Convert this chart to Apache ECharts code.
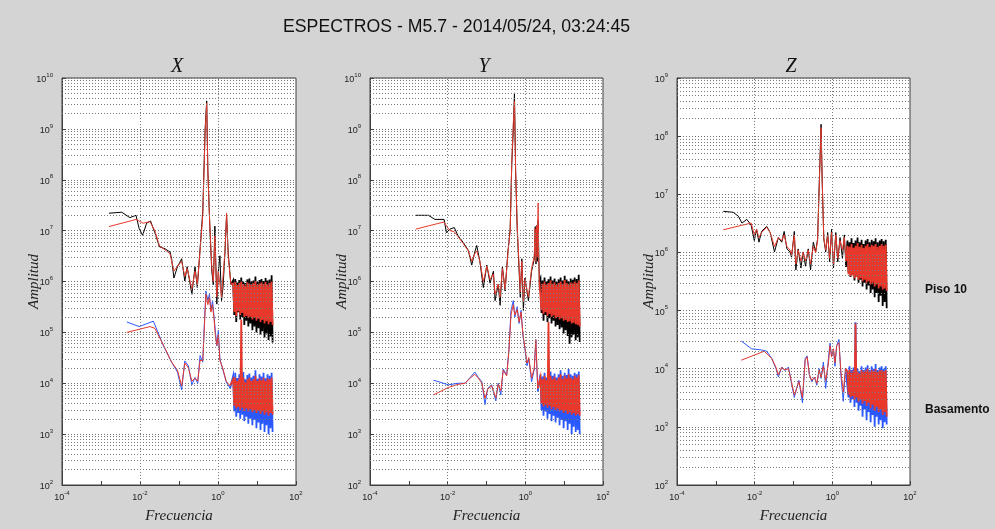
<!DOCTYPE html>
<html><head><meta charset="utf-8">
<script src="https://cdn.jsdelivr.net/npm/echarts@6/dist/echarts.min.js"></script>
<style>html,body{margin:0;padding:0;background:#d4d4d4;}#c{width:995px;height:529px;}</style>
</head><body><div id="c"></div>
<script>
const mainTitle = 'ESPECTROS - M5.7 - 2014/05/24, 03:24:45';
const panelTitles = ['X', 'Y', 'Z'];
const yMaxes = [1e10, 1e10, 1e9];
const xTickExps = [-4, -2, 0, 2];

// high-frequency band frequencies (Hz), shared by every panel
const bandFreq = [2.45,2.61,2.77,2.94,3.12,3.31,3.51,3.72,3.95,4.20,4.46,4.73,5.02,5.33,5.66,6.00,6.37,6.76,7.18,7.62,8.09,8.59,9.12,9.68,10.3,10.9,11.6,12.3,13.0,13.8,14.7,15.6,16.6,17.5,18.6,19.8,21.0,22.3,23.7,25.1];

// ---------- X ----------
const xPisoRaw = [[0.0016,2.2e7],[0.0034,2.3e7],[0.0055,1.8e7],[0.0079,2.0e7],[0.0095,1.1e7],[0.0117,8.1e6],[0.0148,1.4e7],[0.0186,1.55e7],[0.024,9.1e6],[0.0316,4.8e6],[0.0437,4.4e6],[0.0589,3.8e6],[0.0646,2.8e6],[0.0741,1.17e6],[0.0912,1.95e6],[0.117,2.8e6],[0.141,1.02e6],[0.162,1.95e6],[0.214,5.6e5],[0.257,1.95e6],[0.295,7.6e5],[0.347,4.4e6],[0.407,2.4e7],[0.468,1.0e9],[0.513,3.55e9],[0.55,1.5e8],[0.617,1.23e7],[0.692,1.6e6],[0.759,8.7e5],[0.832,1.23e7],[0.933,3.6e5],[1.02,1.6e6],[1.12,3.2e6],[1.23,4.2e5],[1.35,7.9e5],[1.51,3.8e6],[1.66,2.0e7],[1.82,3.8e6],[2.14,8.7e5]];
const xPisoFilt = [[0.0016,1.2e7],[0.0079,1.66e7],[0.012,1.4e7],[0.018,1.5e7],[0.024,1.0e7],[0.0316,5.0e6],[0.0437,4.2e6],[0.0589,3.5e6],[0.0741,1.6e6],[0.0912,2.0e6],[0.117,2.5e6],[0.141,1.26e6],[0.162,1.8e6],[0.214,7.1e5],[0.257,1.6e6],[0.295,8.9e5],[0.347,4.0e6],[0.407,2.0e7],[0.468,8.9e8],[0.513,3.2e9],[0.55,1.4e8],[0.617,1.26e7],[0.692,2.0e6],[0.759,1.0e6],[0.832,7.9e6],[0.933,5.0e5],[1.02,1.6e6],[1.23,5.0e5],[1.51,4.0e6],[1.66,2.2e7],[1.82,3.2e6],[2.14,8.9e5]];
const xBaseRaw = [[0.0046,1.6e5],[0.0095,1.3e5],[0.022,1.66e5],[0.0275,1.1e5],[0.04,5.4e4],[0.0646,2.6e4],[0.0912,1.66e4],[0.117,7.4e3],[0.141,2.75e4],[0.174,2.2e4],[0.214,9.3e3],[0.257,1.3e4],[0.302,1.0e4],[0.347,3.5e4],[0.407,2.6e4],[0.447,1.5e5],[0.49,6.5e5],[0.55,4.2e5],[0.603,5.6e5],[0.66,2.7e5],[0.724,4.2e5],[0.794,2.0e5],[0.851,1.1e5],[0.933,5.4e4],[1.02,1.1e5],[1.12,3.0e4],[1.32,1.9e4],[1.62,1.07e4],[2.04,7.9e3]];
const xBaseFilt = [[0.0046,1.0e5],[0.018,1.3e5],[0.024,1.2e5],[0.04,5.6e4],[0.0646,2.6e4],[0.0912,1.8e4],[0.117,8.9e3],[0.141,2.5e4],[0.174,2.0e4],[0.214,1.1e4],[0.257,1.26e4],[0.302,1.1e4],[0.347,2.8e4],[0.407,2.8e4],[0.447,1.26e5],[0.49,5.6e5],[0.55,3.5e5],[0.603,5.0e5],[0.66,2.5e5],[0.724,3.5e5],[0.794,1.8e5],[0.851,8.9e4],[0.933,5.6e4],[1.02,8.9e4],[1.12,2.8e4],[1.32,2.0e4],[1.62,1.1e4],[2.04,8.9e3]];
const xPisoRawBand = [1.05e6,2.2e5,1.12e6,1.6e5,9.5e5,2.5e5,1.07e6,1.8e5,1.2e6,2.0e5,1.0e6,1.4e5,9.3e5,1.7e5,1.1e6,1.3e5,1.15e6,1.5e5,1.0e6,1.1e5,1.05e6,1.3e5,1.26e6,1.0e5,9.8e5,1.2e5,1.07e6,8.9e4,1.12e6,1.05e5,1.02e6,7.9e4,1.17e6,9.5e4,1.05e6,7.1e4,1.1e6,8.3e4,1.32e6,6.3e4];
const xPisoFiltBand = [9.1e5,2.5e5,9.8e5,2.1e5,8.5e5,2.6e5,9.3e5,2.2e5,1.0e6,2.4e5,8.9e5,2.0e5,8.3e5,2.1e5,9.5e5,1.9e5,9.1e5,2.0e5,8.7e5,1.8e5,9.3e5,1.95e5,1.02e6,1.7e5,8.5e5,1.85e5,9.1e5,1.6e5,9.5e5,1.75e5,8.9e5,1.5e5,9.8e5,1.65e5,8.7e5,1.45e5,9.3e5,1.6e5,1.0e6,1.4e5];
const xBaseRawBand = [1.4e4,2.8e3,1.6e4,2.2e3,1.26e4,2.6e3,1.5e4,2.0e3,1.3e4,2.4e3,1.66e4,1.8e3,1.2e4,2.2e3,1.45e4,1.6e3,1.55e4,2.0e3,1.3e4,1.5e3,1.4e4,1.9e3,1.8e4,1.3e3,1.23e4,1.7e3,1.5e4,1.2e3,1.35e4,1.6e3,1.6e4,1.1e3,1.26e4,1.5e3,1.5e4,1.0e3,1.4e4,1.3e3,1.6e4,1.1e3];
const xBaseFiltBand = [1.2e4,3.6e3,1.3e4,3.2e3,1.1e4,3.4e3,1.25e4,3.0e3,1.8e5,3.3e3,1.3e4,2.9e3,1.05e4,3.2e3,1.2e4,2.8e3,1.3e4,3.1e3,1.1e4,2.7e3,1.2e4,3.0e3,1.4e4,2.6e3,1.1e4,2.9e3,1.25e4,2.5e3,1.15e4,2.8e3,1.3e4,2.4e3,1.1e4,2.7e3,1.25e4,2.3e3,1.2e4,2.6e3,1.3e4,2.4e3];

// ---------- Y ----------
const yPisoRaw = [[0.0015,2.0e7],[0.0032,2.0e7],[0.0047,1.66e7],[0.0081,1.66e7],[0.0093,9.1e6],[0.0115,1.07e7],[0.0148,1.15e7],[0.0186,7.9e6],[0.025,5.9e6],[0.034,4.1e6],[0.0417,2.1e6],[0.05,3.8e6],[0.056,5.1e6],[0.0676,2.45e6],[0.083,7.6e5],[0.102,2.1e6],[0.123,9.3e5],[0.151,1.6e6],[0.166,4.2e5],[0.2,8.7e5],[0.224,3.4e5],[0.257,1.95e6],[0.302,6.5e5],[0.355,3.8e6],[0.407,1.07e7],[0.447,2.0e8],[0.49,1.0e9],[0.525,5.1e9],[0.562,1.5e8],[0.617,1.07e7],[0.692,1.6e6],[0.741,4.9e5],[0.813,2.8e6],[0.891,2.7e5],[0.977,1.17e6],[1.2,4.2e5],[1.45,1.6e6],[1.7,2.8e6],[1.8,1.2e7],[1.88,2.2e6],[1.95,1.26e7],[2.05,2.5e6],[2.14,1.6e7],[2.29,1.0e6]];
const yPisoFilt = [[0.0015,1.07e7],[0.0081,1.48e7],[0.0093,1.23e7],[0.0115,1.0e7],[0.0148,9.5e6],[0.0186,7.6e6],[0.025,5.6e6],[0.034,4.0e6],[0.0417,2.5e6],[0.05,3.5e6],[0.056,4.0e6],[0.0676,2.5e6],[0.083,1.0e6],[0.102,2.0e6],[0.123,1.1e6],[0.151,1.4e6],[0.166,5.6e5],[0.2,8.9e5],[0.224,5.0e5],[0.257,1.8e6],[0.302,7.1e5],[0.355,3.5e6],[0.407,1.0e7],[0.447,2.2e8],[0.49,1.26e9],[0.525,3.5e9],[0.562,1.6e8],[0.617,1.26e7],[0.692,2.0e6],[0.741,6.3e5],[0.813,2.5e6],[0.891,4.0e5],[0.977,1.1e6],[1.2,5.0e5],[1.45,1.8e6],[1.7,3.2e6],[1.78,1.1e7],[1.85,2.5e6],[1.95,1.26e7],[2.02,3.0e6],[2.14,3.5e7],[2.2,3.0e6],[2.29,1.0e6]];
const yBaseRaw = [[0.0043,1.15e4],[0.0105,9.3e3],[0.0186,1.0e4],[0.028,1.0e4],[0.038,1.3e4],[0.05,1.66e4],[0.0617,1.3e4],[0.0759,1.07e4],[0.0912,3.8e3],[0.107,7.9e3],[0.135,9.3e3],[0.174,4.5e3],[0.2,1.0e4],[0.234,5.9e3],[0.269,1.9e4],[0.331,1.45e4],[0.38,4.7e4],[0.427,2.7e5],[0.49,4.2e5],[0.537,2.0e5],[0.617,3.2e5],[0.692,1.5e5],[0.776,2.7e5],[0.871,8.3e4],[0.977,4.7e4],[1.1,2.2e4],[1.23,3.0e4],[1.45,1.07e4],[1.7,1.9e4],[1.86,7.2e4],[2.09,6.9e3]];
const yBaseFilt = [[0.0043,5.9e3],[0.0105,8.3e3],[0.0186,9.5e3],[0.028,1.0e4],[0.038,1.26e4],[0.05,1.5e4],[0.0617,1.26e4],[0.0759,1.0e4],[0.0912,5.0e3],[0.107,7.6e3],[0.135,8.9e3],[0.174,5.2e3],[0.2,9.5e3],[0.234,7.1e3],[0.269,1.8e4],[0.331,1.4e4],[0.38,4.5e4],[0.427,2.2e5],[0.49,3.5e5],[0.537,2.2e5],[0.617,2.8e5],[0.692,1.6e5],[0.776,2.5e5],[0.871,8.9e4],[0.977,5.0e4],[1.1,2.5e4],[1.23,3.2e4],[1.45,1.26e4],[1.7,2.0e4],[1.86,7.2e4],[2.09,7.9e3]];
const yPisoRawBand = [1.15e6,2.4e5,1.05e6,1.7e5,1.2e6,2.2e5,1.0e6,1.6e5,1.1e6,1.9e5,1.25e6,1.5e5,1.05e6,1.7e5,1.15e6,1.3e5,9.8e5,1.4e5,1.1e6,1.15e5,1.2e6,1.25e5,1.05e6,9.5e4,1.3e6,1.1e5,1.1e6,8.5e4,1.0e6,6.0e4,1.15e6,8.0e4,1.08e6,9.0e4,1.2e6,7.0e4,1.12e6,8.0e4,1.35e6,6.5e4];
const yPisoFiltBand = [9.5e5,2.7e5,9.0e5,2.3e5,1.0e6,2.5e5,8.7e5,2.1e5,9.3e5,2.3e5,1.05e6,2.0e5,9.0e5,2.15e5,9.6e5,1.9e5,8.5e5,2.0e5,9.3e5,1.8e5,1.0e6,1.9e5,9.0e5,1.7e5,1.07e6,1.75e5,9.3e5,1.6e5,8.7e5,1.65e5,9.6e5,1.5e5,9.1e5,1.55e5,1.0e6,1.45e5,9.3e5,1.4e5,1.05e6,1.3e5];
const yBaseRawBand = [1.5e4,3.0e3,1.35e4,2.3e3,1.6e4,2.8e3,1.3e4,2.0e3,1.45e4,2.5e3,1.7e4,1.8e3,1.4e4,2.3e3,1.55e4,1.7e3,1.3e4,2.1e3,1.5e4,1.5e3,1.8e4,1.9e3,1.4e4,1.3e3,1.6e4,1.8e3,1.45e4,1.2e3,1.9e4,1.6e3,1.5e4,1.0e3,1.4e4,1.4e3,1.6e4,1.1e3,1.5e4,1.2e3,1.7e4,1.0e3];
const yBaseFiltBand = [1.3e4,4.0e3,1.2e4,3.5e3,1.4e4,3.8e3,1.15e4,3.3e3,1.6e5,3.6e3,1.4e4,3.1e3,1.2e4,3.4e3,1.35e4,3.0e3,1.15e4,3.2e3,1.3e4,2.8e3,1.5e4,3.0e3,1.2e4,2.6e3,1.4e4,2.9e3,1.25e4,2.5e3,1.5e4,2.7e3,1.3e4,2.4e3,1.2e4,2.6e3,1.4e4,2.3e3,1.3e4,2.5e3,1.45e4,2.3e3];

// ---------- Z ----------
const zPisoRaw = [[0.00155,5.1e6],[0.0028,4.9e6],[0.0038,4.2e6],[0.0047,3.2e6],[0.0063,3.7e6],[0.0081,2.95e6],[0.0098,1.6e6],[0.0112,2.5e6],[0.0129,1.5e6],[0.0151,2.3e6],[0.0204,2.8e6],[0.0251,2.2e6],[0.0324,1.02e6],[0.0407,1.8e6],[0.05,1.5e6],[0.0575,2.3e6],[0.0676,1.15e6],[0.0813,1.02e6],[0.0891,8.3e5],[0.105,2.3e6],[0.115,5.0e5],[0.132,1.15e6],[0.155,5.4e5],[0.178,1.02e6],[0.204,5.8e5],[0.24,1.15e6],[0.275,5.0e5],[0.324,1.5e6],[0.372,1.02e6],[0.417,1.7e6],[0.468,2.2e7],[0.513,1.6e8],[0.55,1.5e7],[0.603,1.7e6],[0.676,1.02e6],[0.759,2.2e6],[0.851,6.9e5],[0.955,2.5e6],[1.07,5.4e5],[1.23,2.2e6],[1.38,6.9e5],[1.58,1.8e6],[1.82,7.9e5],[2.04,2.0e6],[2.24,5.6e5]];
const zPisoFilt = [[0.00155,2.45e6],[0.0081,3.2e6],[0.0098,2.0e6],[0.0112,2.5e6],[0.0129,1.8e6],[0.0151,2.2e6],[0.0204,2.7e6],[0.0251,2.2e6],[0.0324,1.26e6],[0.0407,1.8e6],[0.05,1.6e6],[0.0575,2.0e6],[0.0676,1.26e6],[0.0813,1.1e6],[0.0891,8.9e5],[0.105,2.0e6],[0.115,6.3e5],[0.132,1.1e6],[0.155,7.1e5],[0.178,1.0e6],[0.204,7.1e5],[0.24,1.1e6],[0.275,6.3e5],[0.324,1.26e6],[0.372,1.0e6],[0.417,1.6e6],[0.468,2.0e7],[0.513,1.4e8],[0.55,1.6e7],[0.603,1.8e6],[0.676,1.1e6],[0.759,2.0e6],[0.851,7.9e5],[0.955,2.2e6],[1.07,6.3e5],[1.23,2.0e6],[1.38,7.9e5],[1.58,1.6e6],[1.82,1.1e6],[2.04,1.8e6],[2.24,7.1e5]];
const zBaseRaw = [[0.0045,3.0e4],[0.0083,2.2e4],[0.0151,2.1e4],[0.0204,2.0e4],[0.0275,1.5e4],[0.0355,1.0e4],[0.0407,7.2e3],[0.05,1.07e4],[0.0603,9.3e3],[0.0741,1.07e4],[0.0871,6.0e3],[0.105,3.2e3],[0.12,4.6e3],[0.138,6.3e3],[0.17,2.6e3],[0.2,1.5e4],[0.224,1.66e4],[0.257,7.8e3],[0.295,6.0e3],[0.347,7.2e3],[0.398,5.2e3],[0.457,1.0e4],[0.513,6.8e3],[0.589,1.3e4],[0.676,4.6e3],[0.794,1.5e4],[0.871,2.75e4],[0.955,1.66e4],[1.07,2.1e4],[1.17,1.1e4],[1.29,2.45e4],[1.48,3.2e4],[1.66,7.8e3],[1.91,2.75e3],[2.19,1.0e4]];
const zBaseFilt = [[0.0045,1.4e4],[0.0177,2.0e4],[0.0275,1.5e4],[0.0355,1.05e4],[0.0407,7.9e3],[0.05,1.05e4],[0.0603,9.5e3],[0.0741,1.0e4],[0.0871,6.3e3],[0.105,3.5e3],[0.12,4.5e3],[0.138,6.0e3],[0.17,3.2e3],[0.2,1.4e4],[0.224,1.6e4],[0.257,7.9e3],[0.295,6.3e3],[0.347,7.1e3],[0.398,5.6e3],[0.457,9.5e3],[0.513,7.1e3],[0.589,1.1e4],[0.676,6.3e3],[0.794,1.26e4],[0.871,2.5e4],[0.955,1.6e4],[1.07,2.2e4],[1.17,1.26e4],[1.29,2.5e4],[1.48,2.8e4],[1.66,8.9e3],[1.91,4.0e3],[2.19,1.0e4]];
const zPisoRawBand = [1.6e6,4.5e5,1.5e6,3.8e5,1.75e6,4.2e5,1.45e6,3.3e5,1.6e6,3.8e5,1.8e6,3.0e5,1.5e6,3.4e5,1.65e6,2.6e5,1.4e6,3.0e5,1.6e6,2.3e5,1.7e6,2.7e5,1.5e6,2.0e5,1.65e6,2.3e5,1.55e6,1.7e5,1.75e6,2.0e5,1.5e6,1.4e5,1.6e6,1.8e5,1.7e6,1.2e5,1.55e6,1.4e5,1.65e6,1.1e5];
const zPisoFiltBand = [1.3e6,4.2e5,1.25e6,3.9e5,1.4e6,4.0e5,1.2e6,3.6e5,1.3e6,3.8e5,1.45e6,3.4e5,1.25e6,3.6e5,1.35e6,3.2e5,1.2e6,3.4e5,1.3e6,3.0e5,1.4e6,3.2e5,1.25e6,2.8e5,1.35e6,3.0e5,1.3e6,2.6e5,1.4e6,2.8e5,1.25e6,2.4e5,1.3e6,2.6e5,1.4e6,2.3e5,1.3e6,2.4e5,1.35e6,2.2e5];
const zBaseRawBand = [1.0e4,3.2e3,1.1e4,2.6e3,9.5e3,3.0e3,1.05e4,2.2e3,6.3e4,2.6e3,1.0e4,1.9e3,9.0e3,2.3e3,1.1e4,1.5e3,9.5e3,2.0e3,1.05e4,1.3e3,1.15e4,1.8e3,9.5e3,1.2e3,1.1e4,1.6e3,1.0e4,1.0e3,1.2e4,1.5e3,9.5e3,1.1e3,1.05e4,1.3e3,1.1e4,9.5e2,1.0e4,1.2e3,1.1e4,1.1e3];
const zBaseFiltBand = [9.0e3,3.6e3,9.5e3,3.2e3,8.5e3,3.4e3,9.3e3,2.9e3,6.0e4,3.2e3,9.0e3,2.7e3,8.3e3,3.0e3,9.5e3,2.5e3,8.7e3,2.8e3,9.3e3,2.3e3,1.0e4,2.6e3,8.7e3,2.1e3,9.5e3,2.4e3,9.0e3,1.9e3,1.0e4,2.2e3,8.7e3,1.8e3,9.3e3,2.0e3,9.5e3,1.6e3,9.0e3,1.8e3,9.5e3,1.5e3];

const panelData = [
  [xPisoRaw, xPisoRawBand, xPisoFilt, xPisoFiltBand, xBaseRaw, xBaseRawBand, xBaseFilt, xBaseFiltBand],
  [yPisoRaw, yPisoRawBand, yPisoFilt, yPisoFiltBand, yBaseRaw, yBaseRawBand, yBaseFilt, yBaseFiltBand],
  [zPisoRaw, zPisoRawBand, zPisoFilt, zPisoFiltBand, zBaseRaw, zBaseRawBand, zBaseFilt, zBaseFiltBand]
];

const gridLeft = [62, 370, 677];
const gridW = [234, 233, 233];
const TOP = 78, H = 418;
const BLACK = '#000000', RED = '#e8382b', BLUE = '#2a58ff';
const FONT = 'Liberation Sans';

function bandPairs(pairs, band) {
  return [pairs[pairs.length - 1]].concat(bandFreq.map((f, i) => [f, band[i]]));
}
function supLabel(v) {
  const e = Math.round(Math.log10(v));
  return '{b|10}{s|' + e + '}';
}
const rich = {
  b: {fontSize: 9, fontFamily: FONT, color: '#222', lineHeight: 12, verticalAlign: 'bottom'},
  s: {fontSize: 6, fontFamily: FONT, color: '#222', lineHeight: 6, verticalAlign: 'top'}
};
const nameStyle = {fontFamily: 'Liberation Serif', fontStyle: 'italic', fontSize: 15, color: '#222'};

const grids = [], xAxes = [], yAxes = [], series = [], graphics = [];
for (let i = 0; i < 3; i++) {
  grids.push({left: gridLeft[i], top: TOP, width: gridW[i], height: H, show: true,
    backgroundColor: '#ffffff', borderColor: '#404040', borderWidth: 1, containLabel: false});
  xAxes.push({type: 'log', logBase: 10, gridIndex: i, min: 1e-4, max: 100,
    name: 'Frecuencia', nameLocation: 'middle', nameGap: 24, nameMoveOverlap: false,
    nameTextStyle: nameStyle,
    axisLine: {show: true, lineStyle: {color: '#404040'}},
    axisTick: {show: true, inside: true, length: 4, lineStyle: {color: '#404040'}},
    axisLabel: {margin: 5, formatter: function (v) {
      const e = Math.round(Math.log10(v));
      return xTickExps.indexOf(e) >= 0 ? supLabel(v) : '';
    }, rich: rich},
    splitLine: {show: false}});
  yAxes.push({type: 'log', logBase: 10, gridIndex: i, min: 100, max: yMaxes[i],
    name: 'Amplitud', nameLocation: 'middle', nameGap: 20, nameRotate: 90, nameMoveOverlap: false,
    nameTextStyle: nameStyle,
    axisLine: {show: true, lineStyle: {color: '#404040'}},
    axisTick: {show: true, inside: true, length: 4, lineStyle: {color: '#404040'}},
    axisLabel: {margin: 9, formatter: supLabel, rich: rich},
    splitLine: {show: true, lineStyle: {color: '#707070', type: [1, 2], width: 1}}});

  // minor grid lines + vertical major grid lines
  const lines = [];
  const topExp = Math.round(Math.log10(yMaxes[i]));
  for (let e = 2; e < topExp; e++) {
    for (let m = 2; m <= 9; m++) lines.push({yAxis: m * Math.pow(10, e)});
  }
  lines.push({xAxis: 0.01});
  lines.push({xAxis: 1});
  series.push({type: 'line', xAxisIndex: i, yAxisIndex: i, data: [], silent: true,
    markLine: {silent: true, symbol: 'none', animation: false, label: {show: false},
      lineStyle: {color: '#7a7a7a', type: [1, 2], width: 1}, emphasis: {disabled: true}, data: lines}});

  const d = panelData[i];
  const defs = [
    [d[0], d[1], BLACK],
    [d[2], d[3], RED],
    [d[4], d[5], BLUE],
    [d[6], d[7], RED]
  ];
  defs.forEach(function (s) {
    const common = {type: 'line', xAxisIndex: i, yAxisIndex: i, showSymbol: false, symbol: 'none',
      sampling: null, emphasis: {disabled: true}, animation: false, silent: true, clip: true};
    series.push(Object.assign({}, common, {data: s[0], lineStyle: {color: s[2], width: 1}}));
    series.push(Object.assign({}, common, {data: bandPairs(s[0], s[1]), lineStyle: {color: s[2], width: 1.8, join: 'miter'}}));
  });

  graphics.push({type: 'text', left: gridLeft[i] + gridW[i] / 2 - 8, top: 57,
    style: {text: panelTitles[i], font: 'italic 20px "Liberation Serif"', fill: '#111'}});
}
graphics.push({type: 'text', left: 283, top: 18,
  style: {text: mainTitle, font: '17.7px "Liberation Sans"', fill: '#111'}});
graphics.push({type: 'text', left: 925, top: 284,
  style: {text: 'Piso 10', font: 'bold 12px "Liberation Sans"', fill: '#111'}});
graphics.push({type: 'text', left: 925, top: 404,
  style: {text: 'Basamento', font: 'bold 12px "Liberation Sans"', fill: '#111'}});

const chart = echarts.init(document.getElementById('c'), null, {renderer: 'canvas'});
chart.setOption({
  backgroundColor: '#d4d4d4',
  animation: false,
  textStyle: {fontFamily: FONT},
  grid: grids, xAxis: xAxes, yAxis: yAxes, series: series, graphic: graphics
});
</script></body></html>
